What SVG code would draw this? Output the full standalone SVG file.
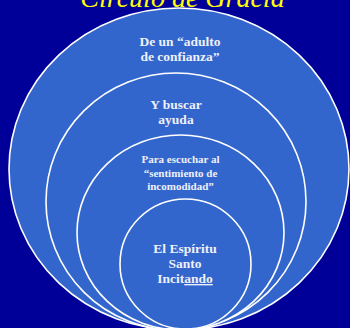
<svg xmlns="http://www.w3.org/2000/svg" width="350" height="328" viewBox="0 0 350 328">
<style>
.c{fill:#3366cc;stroke:#ffffff;stroke-width:1.6}
.t{font-family:"Liberation Serif","DejaVu Serif",serif;font-weight:bold;fill:#eef0f8;text-anchor:middle}
.title{font-family:"Liberation Serif",serif;font-style:italic;font-size:28px;fill:#ffff00;text-anchor:middle}
</style>
<rect width="350" height="328" fill="#000099"/>
<text class="title" x="182.5" y="7">Círculo de Gracia</text>
<g id="outer">
<ellipse class="c" cx="179" cy="169" rx="170" ry="161"/>
<text class="t" font-size="13.5" x="180" y="46">De un “adulto</text>
<text class="t" font-size="13.5" x="180" y="61">de confianza”</text>
</g>
<g id="second">
<ellipse class="c" cx="176" cy="201.5" rx="130" ry="128.5"/>
<text class="t" font-size="13.5" x="176" y="109">Y buscar</text>
<text class="t" font-size="13.5" x="176" y="124">ayuda</text>
</g>
<g id="third">
<ellipse class="c" cx="180.5" cy="232.5" rx="103.5" ry="97.5"/>
<text class="t" font-size="11" x="180.5" y="163">Para escuchar al</text>
<text class="t" font-size="11" x="180.5" y="176.5">“sentimiento de</text>
<text class="t" font-size="11" x="180.5" y="190">incomodidad”</text>
</g>
<g id="inner">
<ellipse class="c" cx="185.5" cy="264" rx="65.5" ry="65"/>
<text class="t" font-size="13.5" x="185" y="253">El Espíritu</text>
<text class="t" font-size="13.5" x="185" y="268">Santo</text>
<text class="t" font-size="13.5" x="185" y="283">Incit<tspan text-decoration="underline">ando</tspan></text>
</g>
<g id="connectors"/>
</svg>
